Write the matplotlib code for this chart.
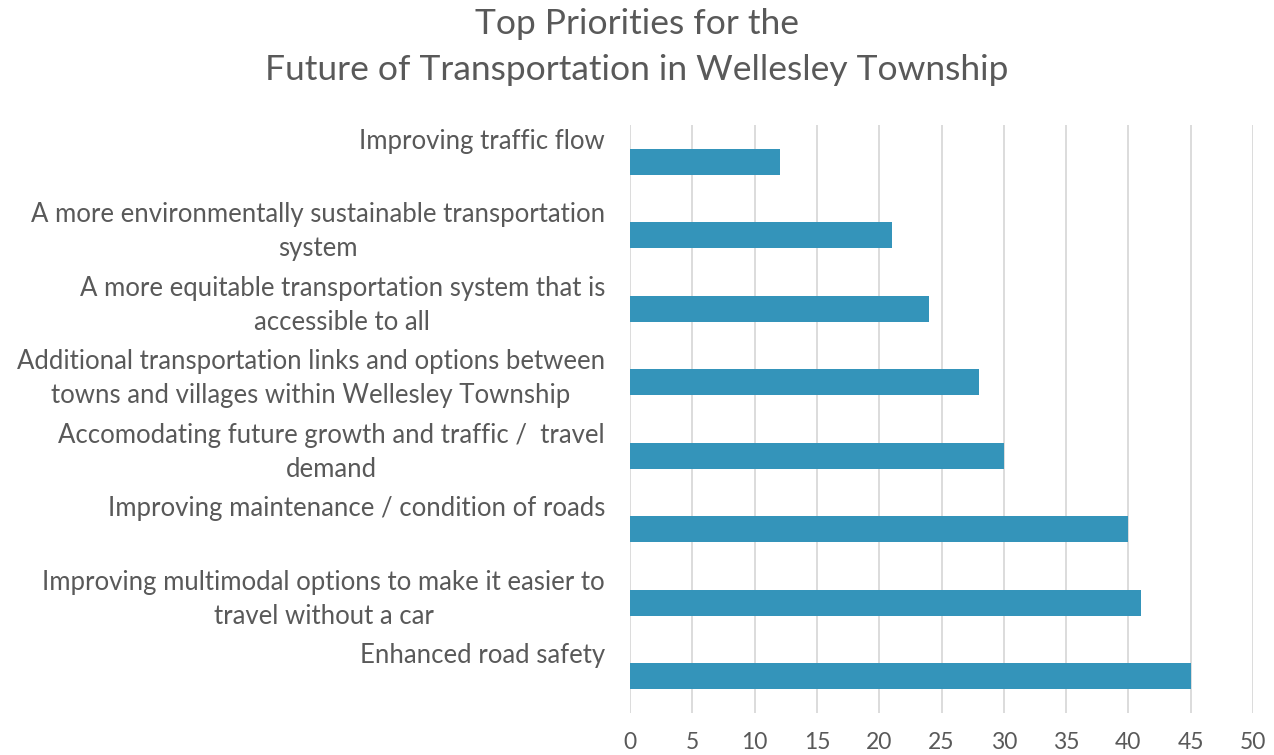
import matplotlib.pyplot as plt
import matplotlib.transforms as mtransforms

categories = [
    "Improving traffic flow",
    "A more environmentally sustainable transportation\nsystem",
    "A more equitable transportation system that is\naccessible to all",
    "Additional transportation links and options between\ntowns and villages within Wellesley Township",
    "Accomodating future growth and traffic /  travel\ndemand",
    "Improving maintenance / condition of roads",
    "Improving multimodal options to make it easier to\ntravel without a car",
    "Enhanced road safety",
]
values = [12, 21, 24, 28, 30, 40, 41, 45]
xticks = list(range(0, 55, 5))

text_color = "#595959"
bar_color = "#3494BA"
grid_color = "#D9D9D9"

plt.rcParams['font.family'] = ['Lato', 'DejaVu Sans']

fig = plt.figure(figsize=(12.74, 7.55), dpi=100)
ax = fig.add_axes([630/1274, 1-713/755, (1253-630)/1274, (713-125)/755])

ypos = list(range(len(categories)))
ax.barh(ypos, values, height=0.35, color=bar_color, zorder=3)
ax.set_ylim(len(categories)-0.5, -0.5)
ax.set_xlim(0, 50)
ax.set_xticks(xticks)
ax.set_xticklabels([str(t) for t in xticks], fontsize=16.5, color=text_color)
ax.tick_params(axis='x', length=0, pad=14)
ax.set_yticks([])
ax.grid(axis='x', color=grid_color, linewidth=1.3, zorder=0)
for s in ax.spines.values():
    s.set_visible(False)

# category labels, top-aligned above each slot centre
trans = mtransforms.blended_transform_factory(ax.transAxes, ax.transData)
for y, lab in zip(ypos, categories):
    ax.annotate(lab, xy=(0, y), xycoords=trans, xytext=(-25, 33),
                textcoords='offset pixels', ha='right', va='top',
                multialignment='center', fontsize=18.5, color=text_color,
                linespacing=1.44)

fig.text(0.5, 1-47/755, "Top Priorities for the\nFuture of Transportation in Wellesley Township",
         ha='center', va='center', fontsize=25.5, color=text_color, linespacing=1.5)

fig.savefig("out.png", dpi=100, facecolor='white')
